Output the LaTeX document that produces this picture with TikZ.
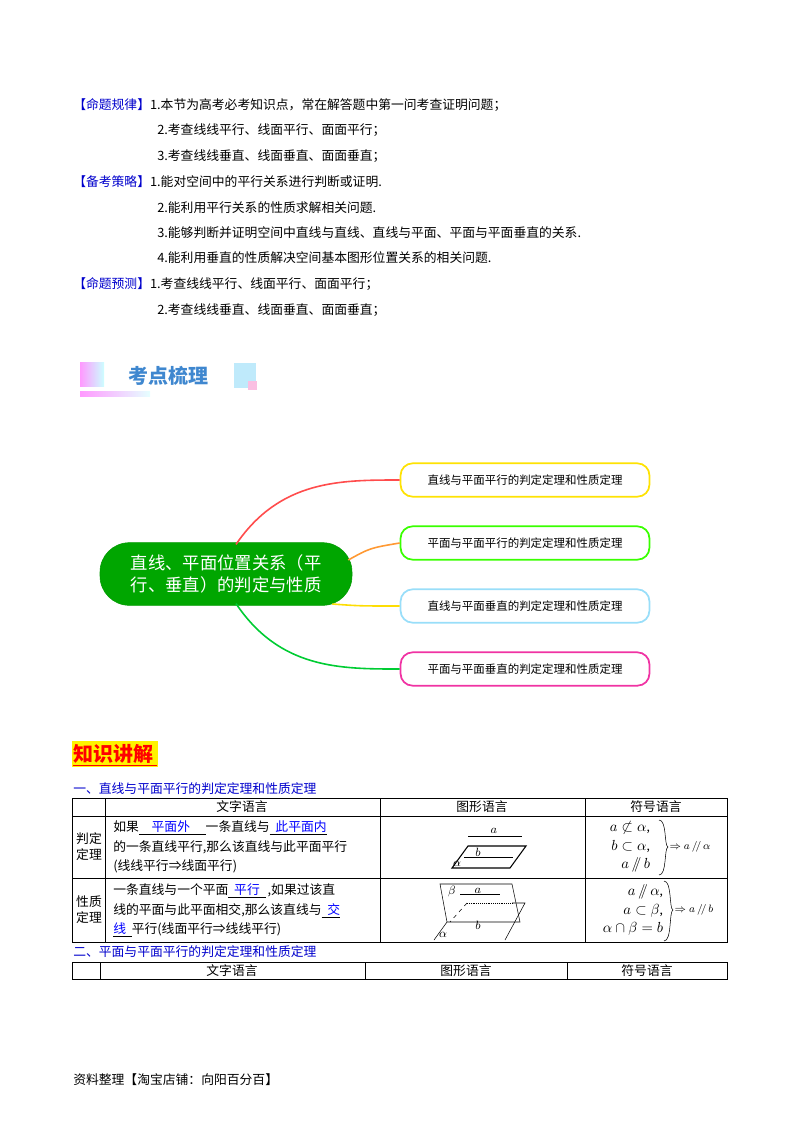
\documentclass[tikz,border=0pt]{standalone}
\usepackage{fontspec}
\setmainfont{Liberation Serif}
\newfontfamily\cjk{Noto Sans CJK SC}
\begin{document}
\begin{tikzpicture}[x=0.75pt,y=-0.75pt,
 txt/.style={anchor=west,inner sep=0pt,font=\cjk\fontsize{9.6}{11}\selectfont},
 blu/.style={txt,text=blue!80!black},
 br/.style={draw=#1,line width=1.3pt,rounded corners=9pt,fill=white,font=\cjk\fontsize{8.6}{10}\selectfont,minimum height=25pt,text width=180pt,align=center},
 tab/.style={line width=0.6pt},
 cell/.style={font=\cjk\fontsize{9.6}{12}\selectfont,inner sep=0pt},
 sym/.style={font=\fontsize{10.5}{14}\selectfont,inner sep=0pt,align=right}]
\useasboundingbox (0,0) rectangle (800,1132);
% top text
\node[txt] (t1) at (73,105) {{\color{blue!80!black}【命题规律】}1.本节为高考必考知识点，常在解答题中第一问考查证明问题；};
\node[txt] (t2) at (157,130) {2.考查线线平行、线面平行、面面平行；};
\node[txt] (t3) at (157,156) {3.考查线线垂直、线面垂直、面面垂直；};
\node[txt] (t4) at (73,182) {{\color{blue!80!black}【备考策略】}1.能对空间中的平行关系进行判断或证明.};
\node[txt] (t5) at (157,208) {2.能利用平行关系的性质求解相关问题.};
\node[txt] (t6) at (157,233) {3.能够判断并证明空间中直线与直线、直线与平面、平面与平面垂直的关系.};
\node[txt] (t7) at (157,258) {4.能利用垂直的性质解决空间基本图形位置关系的相关问题.};
\node[txt] (t8) at (73,284) {{\color{blue!80!black}【命题预测】}1.考查线线平行、线面平行、面面平行；};
\node[txt] (t9) at (157,310) {2.考查线线垂直、线面垂直、面面垂直；};
% banner
\shade[left color=magenta!40,right color=cyan!20] (80,362) rectangle (104,386);
\shade[left color=magenta!40,right color=cyan!10] (80,391) rectangle (150,396);
\fill[cyan!25] (234,363) rectangle (256,388);
\fill[magenta!25] (248,381) rectangle (257,390);
\node[font=\cjk\bfseries\fontsize{15}{16}\selectfont,text=cyan!55!blue!80] (ban) at (168,376) {考点梳理};
% mind map
\node[draw=green!60!black,fill=green!65!black,rounded corners=22pt,minimum width=189pt,minimum height=47pt,text=white,align=center,font=\cjk\fontsize{13}{16}\selectfont] (c) at (226,574) {直线、平面位置关系（平\\行、垂直）的判定与性质};
\node[br=yellow!85!orange] (b1) at (525,480) {直线与平面平行的判定定理和性质定理};
\node[br=green!70!lime] (b2) at (525,543) {平面与平面平行的判定定理和性质定理};
\node[br=cyan!40] (b3) at (525,606) {直线与平面垂直的判定定理和性质定理};
\node[br=magenta!80] (b4) at (525,669) {平面与平面垂直的判定定理和性质定理};
\draw[red!70,line width=1.2pt] (c.north)+(10,2) .. controls (280,480) and (340,480) .. (b1.west);
\draw[orange!80,line width=1.2pt] (c.east)+(-4,-14) .. controls (370,548) .. (b2.west);
\draw[yellow!80!orange,line width=1.2pt] (c.east)+(-20,30) .. controls (360,606) .. (b3.west);
\draw[green!60!teal,line width=1.2pt] (c.south)+(10,-2) .. controls (280,669) and (340,669) .. (b4.west);
% title
\fill[yellow] (72,741) rectangle (158,767);
\node[font=\cjk\bfseries\fontsize{15}{16}\selectfont,text=red,anchor=west,inner sep=0pt] (kt) at (73,754) {知识讲解};
\draw[red,line width=0.6pt] (73,765)--(157,765);
\node[blu] (h1) at (73,789) {一、直线与平面平行的判定定理和性质定理};
% table 1
\draw[tab] (72,798) rectangle (727,942);
\foreach \y in {816,878} \draw[tab] (72,\y)--(727,\y);
\foreach \x in {105,380,585} \draw[tab] (\x,798)--(\x,942);
\node[cell] (c1) at (242,807) {文字语言};
\node[cell] (c2) at (482,807) {图形语言};
\node[cell] (c3) at (656,807) {符号语言};
\node[cell,align=center] (r1) at (89,847) {判定\\定理};
\node[cell,align=center] (r2) at (89,910) {性质\\定理};
\node[txt] (w1) at (113,828) {如果\underline{\quad{\color{blue}平面外}\quad\ }一条直线与\underline{\ \ {\color{blue}此平面内}}};
\node[txt] (w2) at (113,847) {的一条直线平行,那么该直线与此平面平行};
\node[txt] (w3) at (113,866) {(线线平行⇒线面平行)};
\node[txt] (w4) at (113,891) {一条直线与一个平面\underline{\ \ {\color{blue}平行}\ \ }\,,如果过该直};
\node[txt] (w5) at (113,911) {线的平面与此平面相交,那么该直线与\underline{\ \ {\color{blue}交}}};
\node[txt] (w6) at (113,930) {\underline{{\color{blue}线}\ \ }平行(线面平行⇒线线平行)};
% fig 1
\draw (468,836)--(522,836);
\node[font=\small\bfseries\itshape] (fa) at (494,831) {$a$};
\draw[line width=0.8pt] (468,846)--(526,846)--(510,868)--(452,868)--cycle;
\draw (464,857)--(513,857);
\node[font=\small\itshape] (fb) at (478,852) {$b$};
\node[font=\small\bfseries] (fal) at (457,864) {$\alpha$};
% fig 2
\draw (440,884)--(512,884)--(520,922)--(447,922)--cycle;
\draw (460,894)--(500,894);
\node[font=\small] (gbe) at (452,891) {$\beta$};
\node[font=\small\itshape] (ga) at (478,891) {$a$};
\draw[densely dotted] (467,903)--(512,903);
\draw (512,903)--(525,903)--(505,940);
\draw[dashed] (467,903)--(450,922);
\draw (447,922)--(434,940);
\node[font=\small\itshape] (gb) at (478,925) {$b$};
\node[font=\small\bfseries] (gal) at (443,935) {$\alpha$};
% symbols
\node[sym] (s1) at (630,847) {$a\not\subset\alpha$,\\$b\subset\alpha$,\\$a\,/\!\!/\,b$};
\draw (659,820) .. controls (667,820) and (664,846) .. (668,847) .. controls (664,848) and (667,875) .. (659,875);
\node[font=\footnotesize] (s1r) at (690,847) {$\Rightarrow a\,/\!/\,\alpha$};
\node[sym] (s2) at (633,910) {$a\,/\!\!/\,\alpha$,\\$a\subset\beta$,\\$\alpha\cap\beta=b$};
\draw (664,881) .. controls (672,881) and (669,909) .. (673,910) .. controls (669,911) and (672,941) .. (664,941);
\node[font=\footnotesize] (s2r) at (694,910) {$\Rightarrow a\,/\!/\,b$};
\node[blu] (h2) at (73,952) {二、平面与平面平行的判定定理和性质定理};
\draw[tab] (72,962) rectangle (727,979);
\foreach \x in {100,365,567} \draw[tab] (\x,962)--(\x,979);
\node[cell] (d1) at (232,971) {文字语言};
\node[cell] (d2) at (466,971) {图形语言};
\node[cell] (d3) at (647,971) {符号语言};
\node[txt] (ft) at (73,1080) {资料整理【淘宝店铺：向阳百分百】};
\end{tikzpicture}
\end{document}
